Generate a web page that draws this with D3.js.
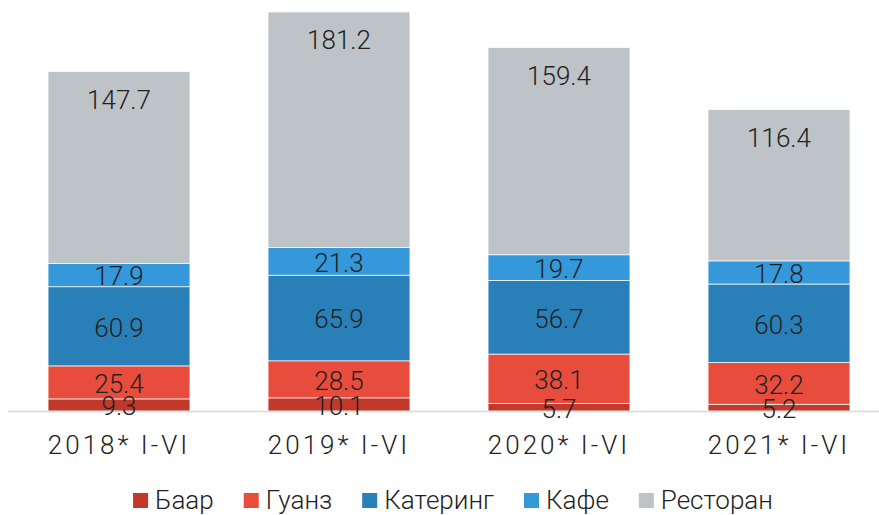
<!DOCTYPE html>
<html>
<head>
<meta charset="utf-8">
<script src="https://cdn.jsdelivr.net/npm/d3@7"></script>
<style>
  body { margin: 0; background: #fff; }
  text { font-family: Roboto, "Noto Sans", sans-serif; font-weight: 300; fill: #222; }
</style>
</head>
<body>
<div id="chart"></div>
<script>
var svgWidth = 879;
var svgHeight = 515;

// Data
var periods = ["2018* I-VI", "2019* I-VI", "2020* I-VI", "2021* I-VI"];
var seriesNames = ["Баар", "Гуанз", "Катеринг", "Кафе", "Ресторан"];
var baar = [9.3, 10.1, 5.7, 5.2];
var guanz = [25.4, 28.5, 38.1, 32.2];
var catering = [60.9, 65.9, 56.7, 60.3];
var cafe = [17.9, 21.3, 19.7, 17.8];
var restoran = [147.7, 181.2, 159.4, 116.4];
var colors = ["#c0392b", "#e74c3c", "#2980b9", "#3498db", "#bdc3c7"];

var seriesValues = [baar, guanz, catering, cafe, restoran];

var rows = periods.map(function (p, i) {
    var r = { period: p };
    seriesNames.forEach(function (s, j) { r[s] = seriesValues[j][i]; });
    return r;
});

var stacked = d3.stack().keys(seriesNames)(rows);

var svg = d3.select("#chart")
    .append("svg")
    .attr("width", svgWidth)
    .attr("height", svgHeight);

var x = d3.scaleBand()
    .domain(periods)
    .range([9, 889])
    .paddingInner(0.355)
    .paddingOuter(0.1775);

var yMax = d3.max(rows, function (d) { return d3.sum(seriesNames, function (s) { return d[s]; }); });
var y = d3.scaleLinear()
    .domain([0, yMax])
    .range([411, 12]);

var color = d3.scaleOrdinal().domain(seriesNames).range(colors);

// bars
var layers = svg.selectAll("g.layer")
    .data(stacked)
    .enter()
    .append("g")
    .attr("class", "layer")
    .attr("fill", function (d) { return color(d.key); });

layers.selectAll("rect")
    .data(function (d) { return d; })
    .enter()
    .append("rect")
    .attr("x", function (d) { return x(d.data.period); })
    .attr("y", function (d) { return y(d[1]); })
    .attr("width", x.bandwidth())
    .attr("height", function (d) { return y(d[0]) - y(d[1]); })
    .attr("stroke", "#fff")
    .attr("stroke-width", 0.7);

// baseline
svg.append("line")
    .attr("x1", 8)
    .attr("x2", 879)
    .attr("y1", y(0) + 0.5)
    .attr("y2", y(0) + 0.5)
    .attr("stroke", "#d9d9d9")
    .attr("stroke-width", 1.5);

// value labels, drawn above all bars
var labelG = svg.append("g");
stacked.forEach(function (layer) {
    var isTop = layer.key === "Ресторан";
    labelG.selectAll("text.l" + layer.index)
        .data(layer)
        .enter()
        .append("text")
        .attr("class", "l" + layer.index)
        .attr("x", function (d) { return x(d.data.period) + x.bandwidth() / 2; })
        .attr("y", function (d) {
            return isTop ? y(d[1]) + 28 : (y(d[0]) + y(d[1])) / 2 + 1;
        })
        .attr("dy", "0.36em")
        .attr("text-anchor", "middle")
        .style("font-size", "26px")
        .text(function (d) { return d3.format(".1f")(d[1] - d[0]); });
});

// x axis labels
var xAxis = d3.axisBottom(x).tickSize(0).tickPadding(0);
var axisG = svg.append("g")
    .attr("transform", "translate(0, 445)")
    .call(xAxis);
axisG.select(".domain").remove();
axisG.selectAll("text")
    .attr("y", 0)
    .attr("dy", "0.36em")
    .attr("fill", "#222")
    .style("font-family", "Roboto, 'Noto Sans', sans-serif")
    .style("font-weight", 300)
    .style("font-size", "26px")
    .style("letter-spacing", "3px");

// legend
var legend = svg.append("g").attr("transform", "translate(0, 500)");
var items = legend.selectAll("g")
    .data(seriesNames)
    .enter()
    .append("g");

items.append("rect")
    .attr("width", 15)
    .attr("height", 15)
    .attr("y", -7)
    .attr("fill", function (d) { return color(d); });

items.append("text")
    .attr("x", 22)
    .attr("dy", "0.36em")
    .style("font-size", "26px")
    .text(function (d) { return d; });

var offsets = [];
var cur = 0;
items.each(function () {
    offsets.push(cur);
    cur += this.getBBox().width + 30;
});
var totalW = cur - 30;
var startX = 453 - totalW / 2;
items.attr("transform", function (d, i) { return "translate(" + (startX + offsets[i]) + ",0)"; });
</script>
</body>
</html>
